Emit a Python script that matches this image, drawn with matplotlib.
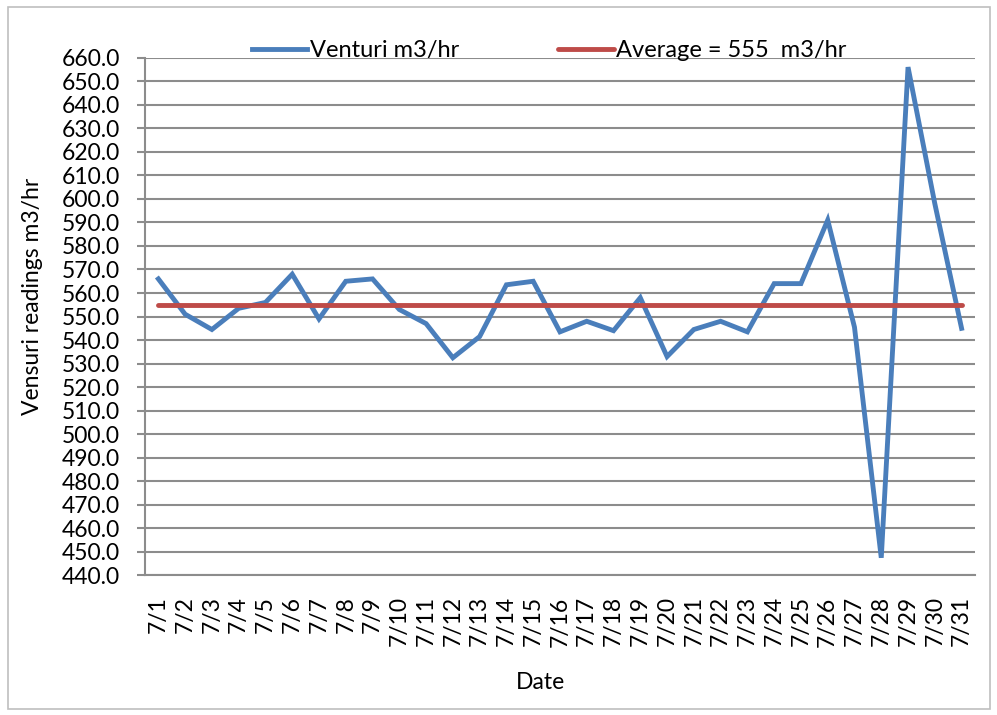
import numpy as np
import matplotlib
matplotlib.use("Agg")
import matplotlib.pyplot as plt
from matplotlib.patches import Rectangle

plt.rcParams['font.family'] = ['Lato', 'DejaVu Sans']

# daily venturi readings, July (m3/hr)
dates = ["7/%d" % d for d in range(1, 32)]
venturi = [566.0, 551.0, 544.5, 553.5, 556.0, 568.0, 549.0, 565.0, 566.0, 553.0,
           547.0, 532.5, 541.5, 563.5, 565.0, 543.5, 548.0, 544.0, 558.0, 533.0,
           544.5, 548.0, 543.5, 564.0, 564.0, 591.0, 545.5, 447.5, 656.0, 598.0,
           545.0]
average = 555
yticks = np.arange(440, 661, 10)

blue = "#4A7EBB"
red = "#BE4B48"
grid_c = "#8C8C8C"

fig = plt.figure(figsize=(9.97, 7.15), dpi=100)
ax = fig.add_axes([0.1454, 0.1952, 0.8325, 0.7241])

# outer chart border
fig.patches.append(Rectangle((0.008, 0.008), 0.985, 0.982, transform=fig.transFigure,
                             fill=False, edgecolor="#BFBFBF", linewidth=1.2))

x = np.arange(len(dates))
ax.plot(x, venturi, color=blue, linewidth=3.5, label="Venturi m3/hr",
        solid_joinstyle="miter", zorder=3)
ax.plot(x, [average] * len(dates), color=red, linewidth=3.5,
        label="Average = 555  m3/hr", solid_capstyle="round", zorder=3)

ax.set_xlim(-0.5, len(dates) - 0.5)
ax.set_ylim(440, 660)
ax.set_yticks(yticks)
ax.set_yticklabels(["%.1f" % v for v in yticks])
ax.set_xticks(x)
ax.set_xticklabels(dates, rotation=90)

ax.yaxis.grid(True, color=grid_c, linewidth=1.5)
ax.set_axisbelow(True)
for s in ["top", "right"]:
    ax.spines[s].set_visible(False)
for s in ["left", "bottom"]:
    ax.spines[s].set_color(grid_c)
    ax.spines[s].set_linewidth(1.5)

ax.tick_params(axis="y", length=6, width=1.5, color=grid_c, labelsize=16.5, pad=12)
ax.tick_params(axis="x", length=0, labelsize=16.5, pad=15)

ax.set_ylabel("Vensuri readings m3/hr", fontsize=16.5)
ax.yaxis.set_label_coords(-0.135, 0.539)
ax.yaxis.label.set_verticalalignment("center")
ax.set_xlabel("Date", fontsize=16.5)
ax.xaxis.set_label_coords(0.477, -0.206)
ax.xaxis.label.set_verticalalignment("center")

ax.legend(loc="center", bbox_to_anchor=(0.487, 1.013), ncol=2, frameon=False,
          fontsize=17, handlelength=2.35, handletextpad=0.1, columnspacing=4.2,
          borderaxespad=0, borderpad=0)

fig.savefig("out.png", dpi=100)
